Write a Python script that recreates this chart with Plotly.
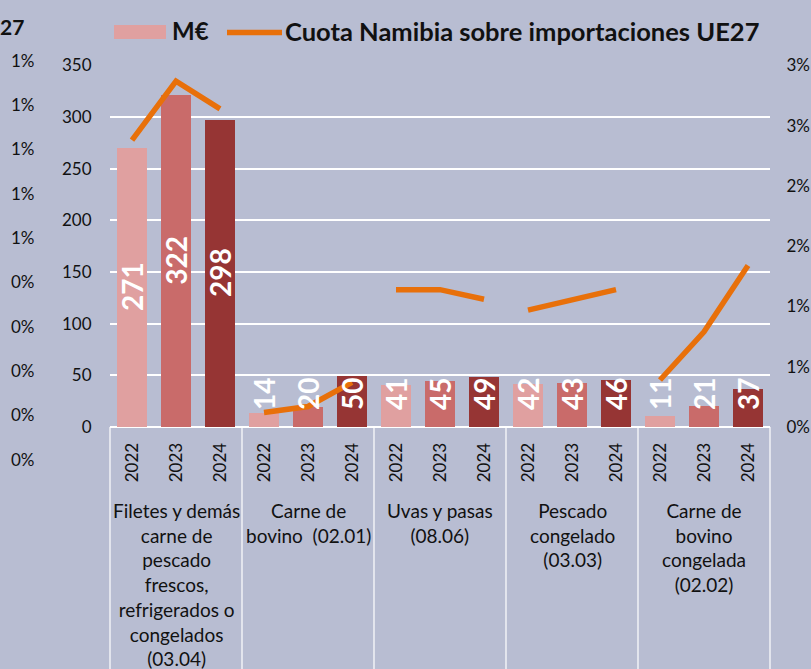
import plotly.graph_objects as go

# ---------------- data ----------------
groups = [
    "Filetes y demás<br>carne de<br>pescado<br>frescos,<br>refrigerados o<br>congelados<br>(03.04)",
    "Carne de<br>bovino  (02.01)",
    "Uvas y pasas<br>(08.06)",
    "Pescado<br>congelado<br>(03.03)",
    "Carne de<br>bovino<br>congelada<br>(02.02)",
]
years = ["2022", "2023", "2024"]
meur = [271, 322, 298, 14, 20, 50, 41, 45, 49, 42, 43, 46, 11, 21, 37]
cuota_pct = [2.38, 2.87, 2.64, 0.12, 0.17, 0.37, 1.14, 1.14, 1.06, 0.97, 1.06, 1.14, 0.39, 0.79, 1.34]

left_ticks = [0, 50, 100, 150, 200, 250, 300, 350]
right_tickvals = [0, 0.5, 1.0, 1.5, 2.0, 2.5, 3.0]
right_ticktext = ["0%", "1%", "1%", "2%", "2%", "3%", "3%"]
ghost_tickvals = [0, 0.1, 0.2, 0.3, 0.4, 0.5, 0.6, 0.7, 0.8, 0.9]
ghost_ticktext = ["0%", "0%", "0%", "0%", "0%", "1%", "1%", "1%", "1%", "1%"]

legend_bar = "M€"
legend_line = "Cuota Namibia sobre importaciones UE27"

# ---------------- style ----------------
BG = "#B8BDD2"
year_colors = ["#E0A0A0", "#C96B6A", "#963534"]
ORANGE = "#E8700A"
FONT = "Lato"
TXT = "#111111"

W, H = 811, 669
ML, MR, MT, MB = 38, 41, 50, 199
PW, PH = W - ML - MR, H - MT - MB


def px_x(p):
    return (p - ML) / PW


def px_y(p):
    return (H - MB - p) / PH


n_years = len(years)
xs = list(range(len(meur)))
colors = [year_colors[i % n_years] for i in xs]
year_labels = [years[i % n_years] for i in xs]

fig = go.Figure()

fig.add_trace(go.Bar(
    x=xs, y=meur, marker=dict(color=colors, line=dict(width=0)),
    width=0.67, showlegend=False,
))

# line with breaks between groups
lx, ly = [], []
for g in range(len(groups)):
    for k in range(n_years):
        i = g * n_years + k
        lx.append(i)
        ly.append(cuota_pct[i])
    lx.append(None)
    ly.append(None)
fig.add_trace(go.Scatter(
    x=lx, y=ly, yaxis="y2", mode="lines", connectgaps=False,
    line=dict(color=ORANGE, width=5.5), showlegend=False,
))

annotations = []
# bar value labels
for i, v in enumerate(meur):
    annotations.append(dict(
        x=i, y=max(v / 2, 32), xref="x", yref="y", text=str(v), showarrow=False,
        textangle=-90, font=dict(family=FONT, size=28, color="white", weight="bold"),
        xanchor="center", yanchor="middle",
    ))
# group labels
for g, name in enumerate(groups):
    annotations.append(dict(
        x=g * n_years + (n_years - 1) / 2, y=px_y(497), xref="x", yref="paper",
        text=name, showarrow=False, align="center", xanchor="center", yanchor="top",
        font=dict(family=FONT, size=19, color=TXT),
    ))
# ghost axis labels (cut-off neighbouring chart)
g_top, g_bot = 60, 459
for v, t in zip(ghost_tickvals, ghost_ticktext):
    py = g_bot - (v - ghost_tickvals[0]) / (ghost_tickvals[-1] - ghost_tickvals[0]) * (g_bot - g_top)
    annotations.append(dict(x=px_x(37), y=px_y(py), xref="paper", yref="paper", text=t,
                            showarrow=False, xanchor="right", yanchor="middle",
                            font=dict(family=FONT, size=17, color=TXT)))
# legend texts
annotations.append(dict(x=px_x(170), y=px_y(31), xref="paper", yref="paper", text=legend_bar,
                        showarrow=False, xanchor="left", yanchor="middle",
                        font=dict(family=FONT, size=24, color=TXT, weight="bold")))
annotations.append(dict(x=px_x(283), y=px_y(31), xref="paper", yref="paper", text=legend_line,
                        showarrow=False, xanchor="left", yanchor="middle",
                        font=dict(family=FONT, size=25.5, color=TXT, weight="bold")))
# cut-off title fragment
annotations.append(dict(x=px_x(-2), y=px_y(27), xref="paper", yref="paper", text="27",
                        showarrow=False, xanchor="left", yanchor="middle",
                        font=dict(family=FONT, size=21, color=TXT, weight="bold")))

shapes = []
# legend symbols
shapes.append(dict(type="rect", xref="paper", yref="paper", x0=px_x(114), x1=px_x(166),
                   y0=px_y(39), y1=px_y(25), fillcolor=year_colors[0], line=dict(width=0)))
shapes.append(dict(type="line", xref="paper", yref="paper", x0=px_x(227), x1=px_x(282),
                   y0=px_y(32.5), y1=px_y(32.5), line=dict(color=ORANGE, width=5.5)))
# category dividers
x_dom0 = px_x(110)
n = len(meur)
for g in range(len(groups) + 1):
    b = g * n_years
    xp = x_dom0 + b / n * (1 - x_dom0)
    shapes.append(dict(type="line", xref="paper", yref="paper", x0=xp, x1=xp,
                       y0=px_y(427), y1=px_y(H + 5), line=dict(color="white", width=1.2)))

fig.update_layout(
    width=W, height=H,
    margin=dict(l=ML, r=MR, t=MT, b=MB, autoexpand=False),
    paper_bgcolor=BG, plot_bgcolor=BG,
    bargap=0, showlegend=False,
    font=dict(family=FONT, color=TXT),
    xaxis=dict(
        domain=[x_dom0, 1], range=[-0.5, n - 0.5],
        tickmode="array", tickvals=xs, ticktext=year_labels, tickangle=-90,
        tickfont=dict(family=FONT, size=17, color=TXT),
        showgrid=False, zeroline=False, showline=False,
        ticks="outside", ticklen=8, tickcolor=BG, automargin=False,
    ),
    yaxis=dict(
        domain=[px_y(427), px_y(65.5)], range=[0, 350],
        tickmode="array", tickvals=left_ticks,
        showgrid=True, gridcolor="white", gridwidth=2,
        zeroline=True, zerolinecolor="white", zerolinewidth=1.5,
        tickfont=dict(family=FONT, size=17, color=TXT),
        ticks="outside", ticklen=14, tickcolor=BG, automargin=False,
    ),
    yaxis2=dict(
        overlaying="y", side="right", anchor="x", range=[0, 3.0],
        tickmode="array", tickvals=right_tickvals, ticktext=right_ticktext,
        showgrid=False, zeroline=False,
        tickfont=dict(family=FONT, size=17, color=TXT),
        ticks="outside", ticklen=12, tickcolor=BG, automargin=False,
    ),
    annotations=annotations,
    shapes=shapes,
)

fig.write_html(
    "out.html",
    config={"displayModeBar": False},
    post_script="document.body.style.margin='0px';document.body.style.overflow='hidden';",
)
